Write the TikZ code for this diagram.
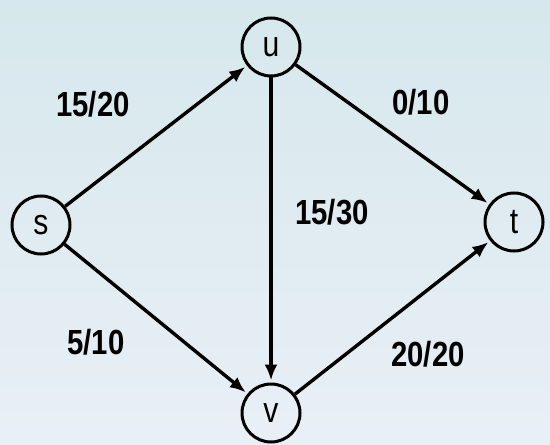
\documentclass[tikz,border=0pt]{standalone}
\usepackage{fontspec}
\setmainfont{Liberation Sans}
\newfontfamily\narrowfont[FakeStretch=0.84]{Liberation Sans}
\usetikzlibrary{arrows.meta}
\begin{document}
\begin{tikzpicture}[x=1bp,y=-1bp,
  vertex/.style={circle,draw,line width=3bp,minimum size=58bp,inner sep=0pt,
    font=\narrowfont\fontsize{36}{36}\selectfont},
  flow/.style={line width=3.4bp,shorten >=2bp,-{Latex[length=16bp,width=13bp]}},
  flowlabel/.style={font=\narrowfont\bfseries\fontsize{35}{35}\selectfont,inner sep=0pt}
]
\shade[top color={rgb,255:red,214;green,232;blue,237},bottom color={rgb,255:red,233;green,239;blue,246}] (0,0) rectangle (550,445);
\useasboundingbox (0,0) rectangle (550,445);
\node[vertex] (s) at (41,225) {s};
\node[vertex] (u) at (271,47) {u};
\node[vertex] (t) at (514,222) {t};
\node[vertex] (v) at (271,413) {v};
\draw[flow] (s) -- (u);
\draw[flow] (s) -- (v);
\draw[flow] (u) -- (v);
\draw[flow] (u) -- (t);
\draw[flow] (v) -- (t);
\node[flowlabel] (l1) at (93,104) {15/20};
\node[flowlabel] (l2) at (421,102) {0/10};
\node[flowlabel] (l3) at (332,212) {15/30};
\node[flowlabel] (l4) at (96,342) {5/10};
\node[flowlabel] (l5) at (428,354) {20/20};
\end{tikzpicture}
\end{document}
